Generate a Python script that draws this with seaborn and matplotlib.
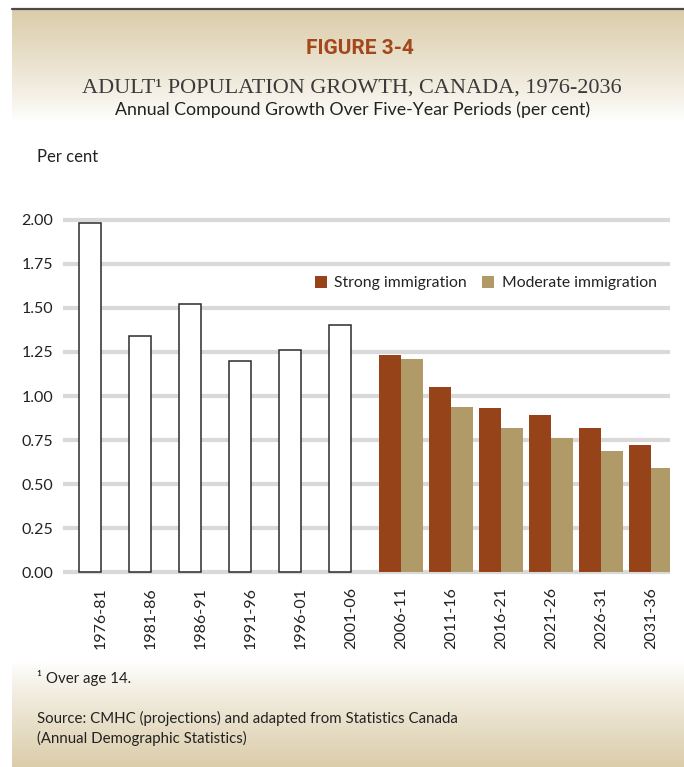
import numpy as np
import pandas as pd
import matplotlib
matplotlib.use("Agg")
import matplotlib.pyplot as plt
from matplotlib.lines import Line2D
import seaborn as sns

# data
periods = ["1976-81", "1981-86", "1986-91", "1991-96", "1996-01", "2001-06",
           "2006-11", "2011-16", "2016-21", "2021-26", "2026-31", "2031-36"]
hist_periods = periods[:6]
hist_values = [1.98, 1.34, 1.52, 1.20, 1.26, 1.40]
proj_periods = periods[6:]
strong_values = [1.23, 1.05, 0.93, 0.89, 0.82, 0.72]
moderate_values = [1.21, 0.94, 0.82, 0.76, 0.69, 0.59]
series_names = ["Strong immigration", "Moderate immigration"]
y_ticks = [0.0, 0.25, 0.50, 0.75, 1.00, 1.25, 1.50, 1.75, 2.00]

strong_color = "#97431a"
moderate_color = "#b09a68"
grid_color = "#d9d9d9"
text_color = "#222222"

hist_df = pd.DataFrame({"period": hist_periods, "value": hist_values, "series": "Historical"})
proj_df = pd.concat([
    pd.DataFrame({"period": proj_periods, "value": strong_values, "scenario": series_names[0]}),
    pd.DataFrame({"period": proj_periods, "value": moderate_values, "scenario": series_names[1]}),
], ignore_index=True)

sns.set_theme(style="white")
plt.rcParams["font.family"] = ["Lato", "DejaVu Sans"]

W, H = 684, 767
fig = plt.figure(figsize=(W / 100, H / 100), dpi=100)
fig.patch.set_facecolor("white")


def px(x, y):
    return x / W, 1 - y / H


# beige gradient panel behind everything
beige = np.array([219, 205, 170]) / 255
rows = np.arange(H)
t = np.zeros(H)
top = (rows >= 9) & (rows < 120)
t[top] = 1 - (rows[top] - 9) / (120 - 9)
bot = rows >= 662
t[bot] = (rows[bot] - 662) / (H - 662)
t = np.clip(t, 0, 1) ** 0.85
grad = 1 - t[:, None] * (1 - beige[None, :])
grad[:9] = 1
img = np.repeat(grad[:, None, :], 2, axis=1)
bg = fig.add_axes([0, 0, 1, 1], zorder=-5)
bg.imshow(img, extent=(12, W, H, 0), aspect="auto", interpolation="bilinear")
bg.set_xlim(0, W)
bg.set_ylim(H, 0)
bg.axis("off")
fig.add_artist(Line2D([12 / W, 1], [1 - 8.5 / H, 1 - 8.5 / H], color="#4a4a4a", linewidth=1.6))

# main axes
ax = fig.add_axes([63 / W, 1 - 574.6 / H, 607 / W, 357.2 / H])
ax.set_facecolor("none")

sns.barplot(data=hist_df, x="period", y="value", hue="series",
            hue_order=["Historical", "blank"], order=periods,
            palette={"Historical": "white", "blank": "white"},
            width=0.88, dodge=True, saturation=1, errorbar=None,
            edgecolor="#2b2b2b", linewidth=1.1, legend=False, ax=ax)
sns.barplot(data=proj_df, x="period", y="value", hue="scenario",
            hue_order=series_names, order=periods,
            palette=[strong_color, moderate_color],
            width=0.88, dodge=True, saturation=1, errorbar=None,
            linewidth=0, ax=ax)

ax.set_xlim(-0.76, 11.38)
ax.set_ylim(-0.012, 2.012)
ax.set_yticks(y_ticks)
ax.set_yticklabels([f"{v:.2f}" for v in y_ticks])
ax.yaxis.grid(True, color=grid_color, linewidth=3)
ax.xaxis.grid(False)
ax.set_axisbelow(True)
for s in ax.spines.values():
    s.set_visible(False)
ax.set_xlabel("")
ax.set_ylabel("")
ax.tick_params(axis="y", length=0, pad=7, labelsize=11.5, labelcolor=text_color)
ax.tick_params(axis="x", which="major", length=0, pad=9, labelsize=11.5,
               labelcolor=text_color, labelrotation=90)
ax.set_xticks(np.arange(len(periods)) - 0.5, minor=True)
ax.tick_params(axis="x", which="minor", length=7.5, width=3, color=grid_color)

handles, labels = ax.get_legend_handles_labels()
ax.legend(handles, labels, loc="center right", bbox_to_anchor=(0.978, 0.816),
          ncol=2, frameon=False, fontsize=11.3, handlelength=0.75, handleheight=0.75,
          handletextpad=0.5, columnspacing=0.95, borderpad=0, borderaxespad=0,
          labelcolor=text_color)

# titles and notes
fig.text(*px(360, 49), "FIGURE 3-4", ha="center", va="center", fontsize=15,
         fontweight="bold", color="#a3481c",
         family=["Liberation Sans Narrow", "Roboto", "DejaVu Sans"])
fig.text(*px(352, 88), "ADULT\u00b9 POPULATION GROWTH, CANADA, 1976-2036", ha="center",
         va="center", fontsize=16, color="#3a3a3a", family=["Liberation Serif", "DejaVu Serif"])
fig.text(*px(353, 110), "Annual Compound Growth Over Five-Year Periods (per cent)",
         ha="center", va="center", fontsize=12.8, color=text_color)
fig.text(*px(37, 157), "Per cent", ha="left", va="center", fontsize=12, color=text_color)
fig.text(*px(37, 678), "\u00b9 Over age 14.", ha="left", va="center", fontsize=10.8, color=text_color)
fig.text(*px(37, 718), "Source: CMHC (projections) and adapted from Statistics Canada",
         ha="left", va="center", fontsize=10.8, color=text_color)
fig.text(*px(37, 738), "(Annual Demographic Statistics)", ha="left", va="center",
         fontsize=10.8, color=text_color)

fig.savefig("out.png", dpi=100)
